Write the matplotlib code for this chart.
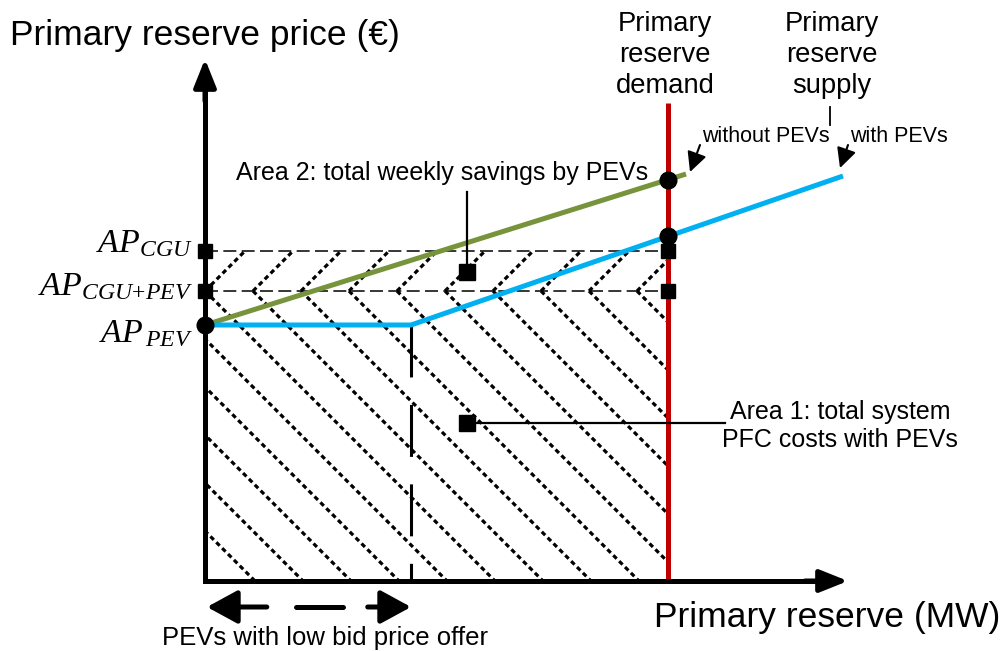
import numpy as np
import matplotlib
matplotlib.use("Agg")
import matplotlib.pyplot as plt
from matplotlib.patches import Rectangle

plt.rcParams["font.family"] = ["Liberation Sans", "DejaVu Sans"]
plt.rcParams["mathtext.fontset"] = "custom"
plt.rcParams["mathtext.rm"] = "Liberation Serif"
plt.rcParams["mathtext.it"] = "Liberation Serif:italic"

# ---------------------------------------------------------------------------
# Schematic market values (MW on x, price on y, arbitrary units)
# ---------------------------------------------------------------------------
PRICE_LABELS = [r"$AP_{CGU}$", r"$AP_{CGU{+}PEV}$", r"$AP_{\,PEV}$"]
PRICE_VALUES = [33.0, 29.0, 25.6]

DEMAND_MW = 46.3          # vertical primary reserve demand
LOW_BID_MW = 20.6         # PEV capacity offered at the low bid price

SUPPLY_NO_PEV_X = [0.0, 48.1]
SUPPLY_NO_PEV_Y = [25.6, 40.7]
SUPPLY_PEV_X = [0.0, 20.6, 63.8]
SUPPLY_PEV_Y = [25.6, 25.6, 40.5]

# Layout: figure is 1004x651 px, axes origin sits at (205, 581) px, 10 px/unit
PX_PER_UNIT = 10.0
ORIGIN_PX = (205, 581)
W_PX, H_PX = 1004, 651

RED = "#c00000"
GREEN = "#77933c"
BLUE = "#00b0f0"

fig = plt.figure(figsize=(W_PX / 100, H_PX / 100), dpi=100)
ax = fig.add_axes([0, 0, 1, 1])
ax.set_xlim(-ORIGIN_PX[0] / PX_PER_UNIT, (W_PX - ORIGIN_PX[0]) / PX_PER_UNIT)
ax.set_ylim(-(H_PX - ORIGIN_PX[1]) / PX_PER_UNIT, ORIGIN_PX[1] / PX_PER_UNIT)
ax.axis("off")

ap_cgu, ap_mix, ap_pev = PRICE_VALUES

# --- hatching: total PFC costs (below AP_CGU+PEV) and savings band above it
hatch_kw = dict(color="black", lw=2.3, linestyle=(0, (1.5, 1.1)), zorder=1)
spacing = 4.8
lower_clip = Rectangle((0, 0), DEMAND_MW, ap_mix, transform=ax.transData)
upper_clip = Rectangle((0, ap_mix), DEMAND_MW, ap_cgu - ap_mix, transform=ax.transData)
for k in range(-8, 11):
    xk = k * spacing
    ln, = ax.plot([xk, xk + 40], [ap_mix, ap_mix - 40], **hatch_kw)
    ln.set_clip_path(lower_clip)
    if xk < 0:
        ln, = ax.plot([xk - 40, xk], [ap_mix + 40, ap_mix], **hatch_kw)
        ln.set_clip_path(lower_clip)
    ln, = ax.plot([xk, xk + 10], [ap_mix, ap_mix + 10], **hatch_kw)
    ln.set_clip_path(upper_clip)

# --- dashed price levels
for p in PRICE_VALUES[:2]:
    ax.plot([0, DEMAND_MW], [p, p], color="black", lw=1.1,
            linestyle=(0, (8.5, 3.5)), zorder=2)

# --- low bid quantity marker (dashes start under the supply curve)
ax.plot([LOW_BID_MW, LOW_BID_MW], [ap_pev, 0], color="black", lw=2.2,
        linestyle=(0, (17, 9)), zorder=2)

# --- demand line
ax.plot([DEMAND_MW, DEMAND_MW], [0, 47.8], color=RED, lw=3.6, zorder=3,
        solid_capstyle="butt")

# --- supply curves
ax.plot(SUPPLY_NO_PEV_X, SUPPLY_NO_PEV_Y, color=GREEN, lw=3.6, zorder=4,
        solid_capstyle="butt")
ax.plot(SUPPLY_PEV_X, SUPPLY_PEV_Y, color=BLUE, lw=3.6, zorder=4,
        solid_capstyle="butt", solid_joinstyle="miter")

# --- axes with arrow heads
ax.plot([0, 0, 62.0], [49.6, 0, 0], color="black", lw=3.6, zorder=5,
        solid_joinstyle="miter", solid_capstyle="butt")
arrow_kw = dict(arrowstyle="-|>,head_length=1.0,head_width=0.4", color="black",
                lw=3.6, mutation_scale=17, shrinkA=0, shrinkB=0)
ax.annotate("", xy=(0, 52.2), xytext=(0, 48.0), arrowprops=arrow_kw, zorder=5)
ax.annotate("", xy=(64.3, 0), xytext=(60.0, 0), arrowprops=arrow_kw, zorder=5)

# --- intersection points
no_pev_at_demand = np.interp(DEMAND_MW, SUPPLY_NO_PEV_X, SUPPLY_NO_PEV_Y)
pev_at_demand = np.interp(DEMAND_MW, SUPPLY_PEV_X, SUPPLY_PEV_Y)
ax.plot([DEMAND_MW, DEMAND_MW], [no_pev_at_demand, pev_at_demand], "o",
        color="black", ms=12, zorder=6)
ax.plot([0], [ap_pev], "o", color="black", ms=12, zorder=6)
ax.plot([0, 0, DEMAND_MW, DEMAND_MW], [ap_cgu, ap_mix, ap_cgu, ap_mix], "s",
        color="black", ms=9.5, zorder=6)

# --- price labels on the y axis
label_offsets = [-0.1, -0.4, -1.7]
for lab, val, off in zip(PRICE_LABELS, PRICE_VALUES, label_offsets):
    ax.text(-1.2, val + off, lab, fontsize=24.5, ha="right", va="baseline")

# --- area annotations
area_x = 26.2
ax.plot([area_x, area_x], [38.9, 30.9], color="black", lw=1.6, zorder=6)
ax.plot([area_x], [30.9], "s", color="black", ms=11.5, zorder=7)
ax.text(23.7, 40.8, "Area 2: total weekly savings by PEVs", fontsize=18,
        ha="center", va="center")

ax.plot([area_x, 52.0], [15.8, 15.8], color="black", lw=1.6, zorder=6)
ax.plot([area_x], [15.8], "s", color="black", ms=11.5, zorder=7)
ax.text(63.5, 15.5, "Area 1: total system\nPFC costs with PEVs", fontsize=18,
        ha="center", va="center", linespacing=1.18)

# --- curve labels
ax.text(46.0, 52.6, "Primary\nreserve\ndemand", fontsize=19.7, ha="center",
        va="center", linespacing=1.24)
ax.text(62.7, 52.6, "Primary\nreserve\nsupply", fontsize=19.7, ha="center",
        va="center", linespacing=1.24)
ax.plot([62.55, 62.55], [47.4, 45.6], color="black", lw=1.3)

small_arrow = dict(arrowstyle="-|>,head_length=0.8,head_width=0.4", color="black",
                   lw=1.5, mutation_scale=15, shrinkA=0, shrinkB=0)
ax.text(49.7, 44.4, "without PEVs", fontsize=15.5, ha="left", va="center")
ax.annotate("", xy=(SUPPLY_NO_PEV_X[-1] + 0.4, SUPPLY_NO_PEV_Y[-1] + 0.2),
            xytext=(49.5, 43.6), arrowprops=small_arrow)
ax.text(64.5, 44.4, "with PEVs", fontsize=15.5, ha="left", va="center")
ax.annotate("", xy=(SUPPLY_PEV_X[-1] - 0.3, SUPPLY_PEV_Y[-1] + 0.8),
            xytext=(64.3, 43.6), arrowprops=small_arrow)

# --- axis titles
ax.text(-19.5, 54.5, "Primary reserve price (\u20ac)", fontsize=25.5,
        ha="left", va="center")
ax.text(79.5, -3.6, "Primary reserve (MW)", fontsize=25.5, ha="right",
        va="center")

# --- low bid range: dashed double arrow below the x axis
y_arr = -2.6
head_kw = dict(arrowstyle="-|>,head_length=1.1,head_width=0.6", color="black",
               lw=3.6, mutation_scale=17, shrinkA=0, shrinkB=0, capstyle="round")
ax.annotate("", xy=(0.2, y_arr), xytext=(0.3 * LOW_BID_MW, y_arr),
            arrowprops=head_kw)
ax.annotate("", xy=(LOW_BID_MW, y_arr), xytext=(0.79 * LOW_BID_MW, y_arr),
            arrowprops=head_kw)
ax.plot([0.44 * LOW_BID_MW, 0.67 * LOW_BID_MW], [y_arr, y_arr], color="black",
        lw=3.6, solid_capstyle="round")
ax.text(12.0, -5.7, "PEVs with low bid price offer", fontsize=18.5,
        ha="center", va="center")

fig.savefig("out.png", dpi=100, facecolor="white")
